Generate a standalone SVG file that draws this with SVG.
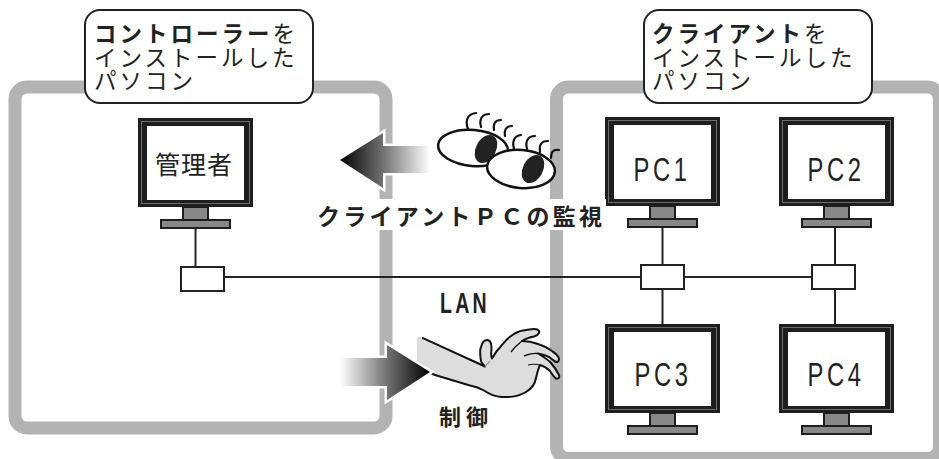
<svg xmlns="http://www.w3.org/2000/svg" xmlns:xlink="http://www.w3.org/1999/xlink" width="939" height="459" viewBox="0 0 939 459">
  <style>
    .zone { fill: none; stroke: #b3b3b3; stroke-width: 13; }
    .wire { fill: none; stroke: #222; stroke-width: 2; }
    .hub { fill: #fff; stroke: #222; stroke-width: 2; }
    .tag { fill: #fff; stroke: #222; stroke-width: 2; }
    .jp { font-family: "Noto Sans CJK JP", "Noto Sans", sans-serif; fill: #222; }
    .cap { font-size: 22.5px; letter-spacing: 3px; }
    .pc { font-family: "Liberation Sans", Arial, sans-serif; font-size: 34px; letter-spacing: 5px; fill: #222; text-anchor: middle; }
    .bold { font-weight: bold; }
    .arrow { stroke: #fff; stroke-width: 5; stroke-linejoin: miter; paint-order: stroke; }
    .eye { fill: #fff; stroke: #111; stroke-width: 2.5; }
    .pupil { fill: #222; }
    .lash { fill: none; stroke: #111; stroke-width: 2.2; stroke-linecap: round; }
  </style>
  <defs>
    <linearGradient id="fadeLeft" gradientUnits="userSpaceOnUse" x1="340" y1="0" x2="430" y2="0">
      <stop offset="0" stop-color="#000"/>
      <stop offset="0.5" stop-color="#777"/>
      <stop offset="1" stop-color="#fff"/>
    </linearGradient>
    <linearGradient id="fadeRight" gradientUnits="userSpaceOnUse" x1="340" y1="0" x2="430" y2="0">
      <stop offset="0" stop-color="#fff"/>
      <stop offset="0.5" stop-color="#777"/>
      <stop offset="1" stop-color="#000"/>
    </linearGradient>
    <!-- flat-panel monitor, 115 wide, frame + stand -->
    <g id="monitor">
      <rect x="0" y="0" width="115" height="89" fill="#1e1e1e"/>
      <rect x="3.5" y="3.5" width="108" height="82" fill="none" stroke="#6d6d6d" stroke-width="1"/>
      <rect x="9" y="8" width="97" height="74" fill="#fff"/>
      <rect x="45" y="89" width="25" height="13" fill="#888" stroke="#1e1e1e" stroke-width="2"/>
      <rect x="23" y="102" width="69" height="8" fill="#888" stroke="#1e1e1e" stroke-width="2"/>
    </g>
  </defs>

  <rect width="939" height="459" fill="#fff"/>

  <!-- machine zones -->
  <g id="zone-controller">
    <rect class="zone" x="15" y="87" width="371" height="341" rx="12"/>
  </g>
  <g id="zone-clients">
    <rect class="zone" x="556.5" y="87" width="383" height="371.5" rx="12"/>
  </g>

  <!-- LAN wiring -->
  <g id="connectors">
    <line class="wire" x1="195.5" y1="228" x2="195.5" y2="267"/>
    <line class="wire" x1="224" y1="277" x2="641" y2="277"/>
    <line class="wire" x1="684" y1="277" x2="812" y2="277"/>
    <line class="wire" x1="662.5" y1="228" x2="662.5" y2="265"/>
    <line class="wire" x1="662.5" y1="289" x2="662.5" y2="324"/>
    <line class="wire" x1="835" y1="228" x2="835" y2="265"/>
    <line class="wire" x1="835" y1="289" x2="835" y2="324"/>
    <rect class="hub" x="181" y="267" width="43" height="24"/>
    <rect class="hub" x="641" y="265" width="43" height="24"/>
    <rect class="hub" x="812" y="265" width="43" height="24"/>
  </g>

  <!-- zone captions -->
  <g id="label-controller">
    <rect class="tag" x="85" y="10" width="228" height="93" rx="15"/>
    <text class="jp cap" x="94" y="42"><tspan class="bold">コントローラー</tspan><tspan>を</tspan></text>
    <text class="jp cap" x="94" y="65.5">インストールした</text>
    <text class="jp cap" x="94" y="89">パソコン</text>
  </g>
  <g id="label-clients">
    <rect class="tag" x="644" y="10" width="228" height="93" rx="15"/>
    <text class="jp cap" x="652" y="42"><tspan class="bold">クライアント</tspan><tspan>を</tspan></text>
    <text class="jp cap" x="652" y="65.5">インストールした</text>
    <text class="jp cap" x="652" y="89">パソコン</text>
  </g>

  <!-- computers -->
  <g id="admin">
    <use xlink:href="#monitor" x="138" y="118"/>
    <text class="jp" font-size="25" letter-spacing="1" x="194" y="174" text-anchor="middle">管理者</text>
  </g>
  <g id="pc1">
    <use xlink:href="#monitor" x="605" y="117"/>
    <text class="pc" transform="translate(662 181) scale(0.7 1)" x="0" y="0">PC1</text>
  </g>
  <g id="pc2">
    <use xlink:href="#monitor" x="779" y="117"/>
    <text class="pc" transform="translate(836 181) scale(0.7 1)" x="0" y="0">PC2</text>
  </g>
  <g id="pc3">
    <use xlink:href="#monitor" x="605" y="324"/>
    <text class="pc" transform="translate(663 386) scale(0.7 1)" x="0" y="0">PC3</text>
  </g>
  <g id="pc4">
    <use xlink:href="#monitor" x="779" y="324"/>
    <text class="pc" transform="translate(836 386) scale(0.7 1)" x="0" y="0">PC4</text>
  </g>

  <!-- monitoring: eyes looking at the clients, arrow back to the controller -->
  <g id="monitoring">
    <polygon class="arrow" fill="url(#fadeLeft)" points="340,160 383,133 383,146 430,146 430,173 383,173 383,188"/>
    <g id="eyes">
      <path class="lash" d="M468,129 C465,121 467,114 476,113"/>
      <path class="lash" d="M481,127 C479,119 482,114 489,114"/>
      <path class="lash" d="M494,130 C493,124 495,120 501,120"/>
      <path class="lash" d="M505,136 C504,130 506,126 512,126"/>
      <ellipse class="eye" cx="473" cy="148" rx="35" ry="18" transform="rotate(5 473 148)"/>
      <ellipse class="pupil" cx="486" cy="149" rx="10" ry="15" transform="rotate(28 486 149)"/>
      <path class="lash" d="M514,149 C512,141 514,136 521,135"/>
      <path class="lash" d="M527,149 C525,141 528,136 535,136"/>
      <path class="lash" d="M540,152 C539,145 541,141 548,141"/>
      <path class="lash" d="M551,158 C551,152 553,149 559,150"/>
      <ellipse class="eye" cx="521" cy="169" rx="34" ry="19" transform="rotate(5 521 169)"/>
      <ellipse class="pupil" cx="533" cy="169" rx="10" ry="15" transform="rotate(28 533 169)"/>
    </g>
    <rect x="312" y="199" width="294" height="31" fill="#fff"/>
    <text class="jp bold" font-size="23" x="317" y="225" textLength="285" lengthAdjust="spacing">クライアントＰＣの監視</text>
  </g>

  <text id="lan-label" class="bold" font-family="Liberation Sans, Arial, sans-serif" font-size="30" letter-spacing="5" fill="#222" transform="translate(440 313) scale(0.65 1)" x="0" y="0">LAN</text>

  <!-- remote control: hand reaching out, arrow from the controller -->
  <g id="control">
    <path d="M420,338 L423.5,338.3 L485,366.5 L481,361.5 C480,355 480,349 481,347 C482,343 484,340 487,340 C490,340 491.5,343 491.5,348 C491.5,352 490.5,356 492,358.5 C495,353 499,348 502,345 C505,341 508,338 511,336 C515,333 519,331 523,330.5 C527,330 531,329 534,329 C538,329 540,331 539,333 C538,335 536,336 534,336.5 C529,337.5 525,339 522,341 C527,341 533,342 538,344 C543,345.5 548,348 552,351 C556,354 559,356 559,359 C559,362 557,362.5 555,361.5 C553,360 551,358.5 549,357 C545,355 541,354 538,353.5 C543,356.5 548,359.5 551,363 C554,366.5 557,371 559,375 C560,378 558,379 556,378.5 C554,377.5 552,374 550,371 C547,368 544,366 540,365 C538,369 537,374 536,378 C535,384 531,389 526,392 C519,396 510,397.5 502,397 C495,396.5 489,394 484,390.5 C480,388 476,386.5 470,385.5 L435,375 L420,368 Z" fill="#ddd" stroke="#111" stroke-width="2" stroke-linejoin="round"/>
    <rect x="417" y="337" width="5" height="33" fill="#ddd"/>
    <path d="M485,366.5 L490,361" fill="none" stroke="#999" stroke-width="1.2"/>
    <path d="M522,341 C518,344 514,348 511,352" fill="none" stroke="#111" stroke-width="1.4"/>
    <path d="M538,353.5 C533,353 528,354 524,356" fill="none" stroke="#111" stroke-width="1.4"/>
    <path d="M540,365 C536,364 532,364 528,365" fill="none" stroke="#111" stroke-width="1.2"/>
    <polygon class="arrow" fill="url(#fadeRight)" points="340,358 387,358 387,345 430,372 387,400 387,386 340,386"/>
    <text class="jp bold" font-size="22" x="439" y="425" textLength="49" lengthAdjust="spacing">制御</text>
  </g>
</svg>
